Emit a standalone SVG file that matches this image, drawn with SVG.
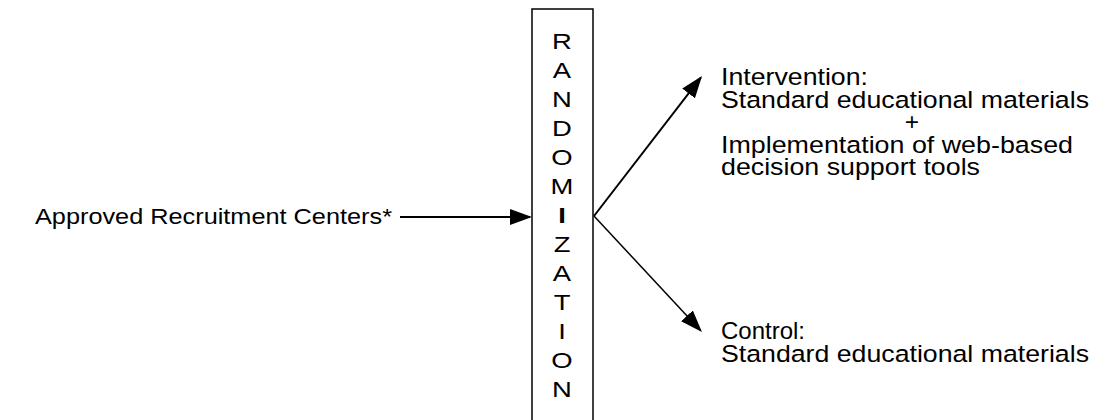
<svg xmlns="http://www.w3.org/2000/svg" width="1095" height="420" viewBox="0 0 1095 420">
  <style>
    .lbl { font-family: "Liberation Sans", Arial, sans-serif; fill: #000; }
    .box { fill: #fff; stroke: #000; stroke-width: 1.5; }
    .conn { stroke: #000; fill: none; stroke-linecap: butt; }
  </style>
  <defs>
    <marker id="head" markerUnits="userSpaceOnUse" markerWidth="22" markerHeight="16" refX="20" refY="8" orient="auto">
      <path d="M0,0 L22,8 L0,16 Z" fill="#000"/>
    </marker>
  </defs>
  <rect width="1095" height="420" fill="#fff"/>

  <!-- source -->
  <g id="source">
    <text class="lbl" x="35" y="224" font-size="22.5" textLength="357" lengthAdjust="spacingAndGlyphs">Approved Recruitment Centers*</text>
  </g>

  <!-- vertical randomization box -->
  <g id="randomization">
    <rect class="box" x="532" y="9" width="61" height="420"/>
    <g transform="translate(562 0) scale(1.22 1)" class="lbl" font-size="22.5" text-anchor="middle">
      <text x="0" y="49">R</text>
      <text x="0" y="78">A</text>
      <text x="0" y="107">N</text>
      <text x="0" y="136">D</text>
      <text x="0" y="165">O</text>
      <text x="0" y="194">M</text>
      <text x="0" y="223" font-weight="bold">I</text>
      <text x="0" y="252">Z</text>
      <text x="0" y="281">A</text>
      <text x="0" y="310">T</text>
      <text x="0" y="339">I</text>
      <text x="0" y="368">O</text>
      <text x="0" y="397">N</text>
    </g>
  </g>

  <!-- intervention arm -->
  <g id="intervention" class="lbl" font-size="24.5">
    <text x="721" y="85" textLength="147" lengthAdjust="spacingAndGlyphs">Intervention:</text>
    <text x="721" y="108" textLength="368" lengthAdjust="spacingAndGlyphs">Standard educational materials</text>
    <text x="912" y="130" text-anchor="middle">+</text>
    <text x="721" y="153" textLength="352" lengthAdjust="spacingAndGlyphs">Implementation of web-based</text>
    <text x="721" y="175" textLength="259" lengthAdjust="spacingAndGlyphs">decision support tools</text>
  </g>

  <!-- control arm -->
  <g id="control" class="lbl" font-size="24.5">
    <text x="721" y="339" textLength="84" lengthAdjust="spacingAndGlyphs">Control:</text>
    <text x="721" y="362" textLength="368" lengthAdjust="spacingAndGlyphs">Standard educational materials</text>
  </g>

  <!-- connectors -->
  <g id="connectors">
    <line class="conn" x1="400" y1="217" x2="530" y2="217" stroke-width="2" marker-end="url(#head)"/>
    <line class="conn" x1="594" y1="216" x2="700.8" y2="77.6" stroke-width="2" marker-end="url(#head)"/>
    <line class="conn" x1="594" y1="216" x2="700.6" y2="330.5" stroke-width="1.5" marker-end="url(#head)"/>
  </g>
</svg>
